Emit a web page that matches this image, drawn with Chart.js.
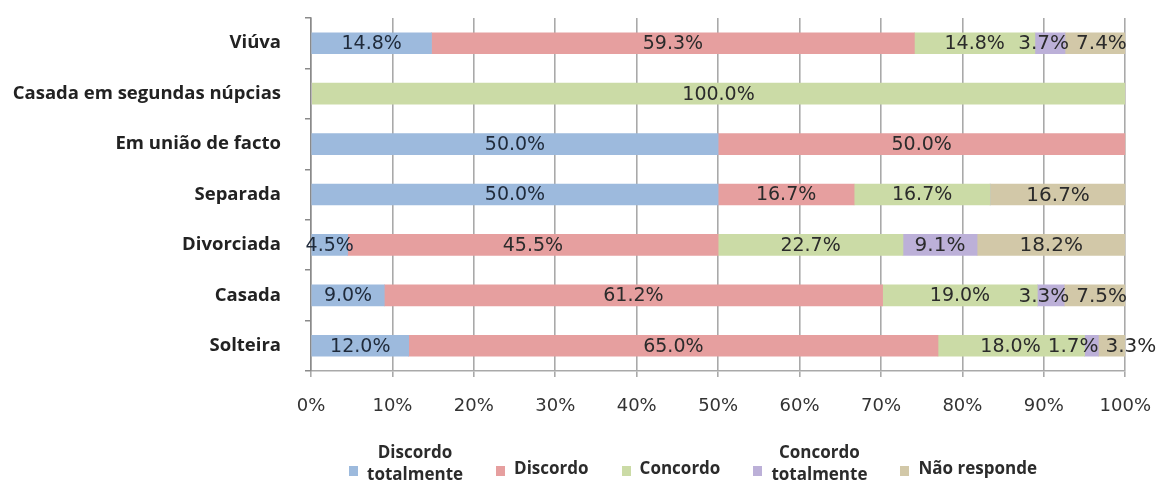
<!DOCTYPE html>
<html>
<head>
<meta charset="utf-8">
<script src="https://cdn.jsdelivr.net/npm/chart.js@4/dist/chart.umd.min.js"></script>
<style>
  html, body { margin: 0; padding: 0; background: #ffffff; }
  #wrap { width: 1170px; height: 486px; position: relative; overflow: hidden; }
  #legend {
    position: absolute; left: 216px; right: 0; top: 445px;
    display: flex; justify-content: center; align-items: center; gap: 33px;
    font-family: 'Open Sans', sans-serif; font-weight: 700; font-size: 17px;
    color: #2b2b2b; line-height: 22px;
  }
  .item { display: flex; align-items: center; gap: 9px; height: 46px; }
  .swatch { width: 9px; height: 10px; flex: none; margin-top: 6px; }
  .txt { text-align: center; white-space: pre; }
  .txt.two { position: relative; top: -5px; }
</style>
</head>
<body>
<div id="wrap">
  <canvas id="c" width="1170" height="486"></canvas>
  <div id="legend"></div>
</div>
<script>
// Estado civil (top to bottom as drawn)
const categories = [
  'Viúva',
  'Casada em segundas núpcias',
  'Em união de facto',
  'Separada',
  'Divorciada',
  'Casada',
  'Solteira'
];

// Percentages per response, one array per series
const discordoTotalmente = [14.8, 0, 50.0, 50.0, 4.5, 9.0, 12.0];
const discordo           = [59.3, 0, 50.0, 16.7, 45.5, 61.2, 65.0];
const concordo           = [14.8, 100.0, 0, 16.7, 22.7, 19.0, 18.0];
const concordoTotalmente = [3.7, 0, 0, 0, 9.1, 3.3, 1.7];
const naoResponde        = [7.4, 0, 0, 16.7, 18.2, 7.5, 3.3];

const seriesNames = ['Discordo totalmente', 'Discordo', 'Concordo', 'Concordo totalmente', 'Não responde'];
const legendText = ['Discordo\ntotalmente', 'Discordo', 'Concordo', 'Concordo\ntotalmente', 'Não responde'];
const xTicks = [0, 10, 20, 30, 40, 50, 60, 70, 80, 90, 100];

const colors = ['#9dbadd', '#e69f9f', '#cbdba6', '#bcb0d8', '#d2c8a8'];
const labelSizes = [19, 19, 19, 20, 20];

const seriesValues = [discordoTotalmente, discordo, concordo, concordoTotalmente, naoResponde];

// Writes each segment's value in the middle of its piece; neighbouring
// labels that would collide are nudged apart along the bar.
const segmentLabels = {
  id: 'segmentLabels',
  afterDatasetsDraw(chart) {
    const ctx = chart.ctx;
    ctx.save();
    ctx.textAlign = 'center';
    ctx.textBaseline = 'middle';
    const rows = chart.data.labels.map(() => []);
    chart.data.datasets.forEach((ds, di) => {
      const meta = chart.getDatasetMeta(di);
      meta.data.forEach((bar, i) => {
        const v = ds.data[i];
        if (!v) return;
        const text = v.toFixed(1) + '%';
        const font = labelSizes[di] + 'px "DejaVu Sans"';
        ctx.font = font;
        const w = ctx.measureText(text).width;
        rows[i].push({ text, font, w, x: (bar.x + bar.base) / 2, y: bar.y, di });
      });
    });
    rows.forEach(row => {
      for (let pass = 0; pass < 6; pass++) {
        for (let k = 1; k < row.length; k++) {
          const a = row[k - 1], b = row[k];
          const overlap = (a.x + a.w / 2 + 7) - (b.x - b.w / 2);
          if (overlap > 0) { a.x -= overlap / 2; b.x += overlap / 2; }
        }
      }
      row.forEach(l => {
        ctx.font = l.font;
        ctx.fillStyle = l.di === 0 ? '#1f2a3a' : '#2b2b2b';
        ctx.fillText(l.text, l.x, l.y + 1);
      });
    });
    ctx.restore();
  }
};

new Chart(document.getElementById('c'), {
  type: 'bar',
  data: {
    labels: categories,
    datasets: seriesNames.map((name, i) => ({
      label: name,
      data: seriesValues[i],
      backgroundColor: colors[i],
      borderWidth: 0,
      barThickness: 21
    }))
  },
  options: {
    indexAxis: 'y',
    responsive: false,
    animation: false,
    layout: { padding: { top: 18, right: 44, left: 0, bottom: 63 } },
    plugins: {
      tooltip: { enabled: false },
      legend: { display: false }
    },
    scales: {
      x: {
        stacked: true,
        min: 0,
        max: 100,
        afterBuildTicks(scale) { scale.ticks = xTicks.map(v => ({ value: v })); },
        ticks: {
          callback: v => v + '%',
          color: '#333333',
          font: { family: 'DejaVu Sans', size: 18 },
          padding: 19,
          maxRotation: 0
        },
        grid: { color: '#a9a9a9', lineWidth: 1.6, tickLength: 6 },
        border: { color: '#a9a9a9', width: 1.6 },
        afterFit(scale) { scale.height = 52; }
      },
      y: {
        stacked: true,
        ticks: {
          color: '#222222',
          font: { family: 'Open Sans', size: 18.5, weight: 'bold' },
          padding: 24
        },
        grid: { drawOnChartArea: false, drawTicks: true, tickLength: 6, offset: true, color: '#8a8a8a', lineWidth: 1.5 },
        border: { color: '#8a8a8a', width: 1.5 },
        afterFit(scale) {
          scale.width = 311;
          scale.paddingTop = 0;
          scale.paddingBottom = 0;
        }
      }
    }
  },
  plugins: [segmentLabels]
});

// Legend row under the axis
const legendEl = document.getElementById('legend');
seriesNames.forEach((name, i) => {
  const item = document.createElement('div');
  item.className = 'item';
  const sw = document.createElement('span');
  sw.className = 'swatch';
  sw.style.background = colors[i];
  const tx = document.createElement('span');
  tx.className = legendText[i].includes('\n') ? 'txt two' : 'txt';
  tx.textContent = legendText[i];
  item.appendChild(sw);
  item.appendChild(tx);
  legendEl.appendChild(item);
});
</script>
</body>
</html>
